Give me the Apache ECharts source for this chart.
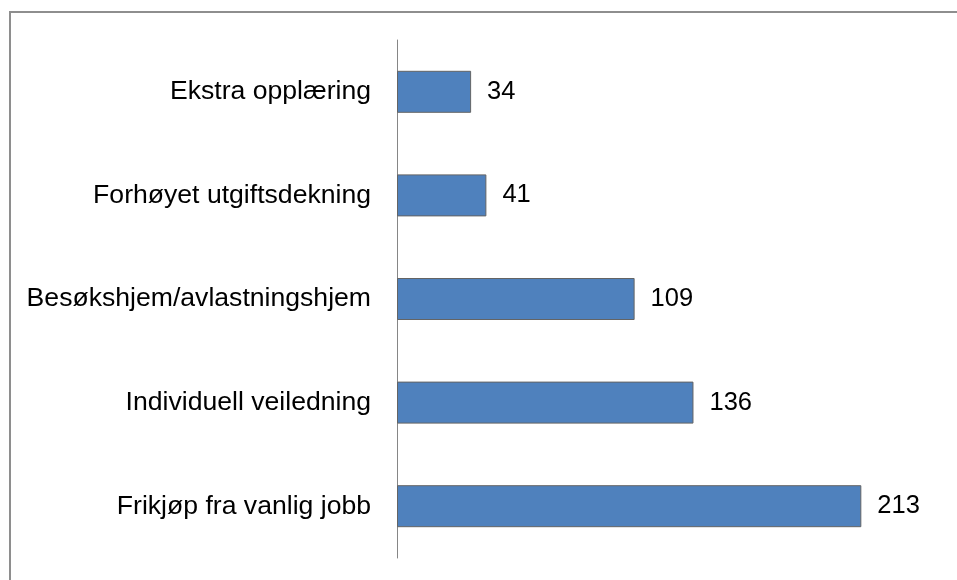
<!DOCTYPE html>
<html>
<head>
<meta charset="utf-8">
<script src="https://cdn.jsdelivr.net/npm/echarts@6/dist/echarts.min.js"></script>
<style>
html,body{margin:0;padding:0;background:#fff;}
#c{width:957px;height:580px;}
</style>
</head>
<body>
<div id="c"></div>
<script>
var categories = ['Ekstra opplæring', 'Forhøyet utgiftsdekning', 'Besøkshjem/avlastningshjem', 'Individuell veiledning', 'Frikjøp fra vanlig jobb'];
var values = [34, 41, 109, 136, 213];

var chart = echarts.init(document.getElementById('c'), null, {renderer: 'canvas'});
chart.setOption({
  animation: false,
  backgroundColor: '#fff',
  graphic: [
    {type: 'polyline', shape: {points: [[10, 580], [10, 12], [957, 12]]}, style: {stroke: '#8e8e8e', lineWidth: 2, fill: null}}
  ],
  grid: {left: 397, top: 40, width: 545, height: 518, containLabel: false},
  xAxis: {
    type: 'value', min: 0, max: 250, show: false
  },
  yAxis: {
    type: 'category', data: categories, inverse: true,
    axisLine: {show: true, lineStyle: {color: '#868686', width: 1}},
    axisTick: {show: false},
    axisLabel: {fontFamily: 'Liberation Sans, Arial, sans-serif', fontSize: 26.6, color: '#000', margin: 26}
  },
  series: [{
    type: 'bar', data: values, barWidth: 42,
    itemStyle: {color: '#4F81BD', borderColor: '#646464', borderWidth: 1},
    label: {show: true, position: 'right', distance: 16, fontFamily: 'Liberation Sans, Arial, sans-serif', fontSize: 25.5, color: '#000'}
  }]
});
</script>
</body>
</html>
